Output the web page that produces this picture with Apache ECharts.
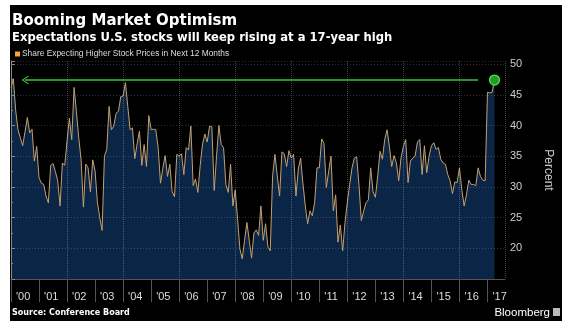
<!DOCTYPE html>
<html>
<head>
<meta charset="utf-8">
<script src="https://cdn.jsdelivr.net/npm/echarts@6/dist/echarts.min.js"></script>
<style>
  html, body { margin: 0; padding: 0; background: #ffffff; width: 567px; height: 330px; overflow: hidden; }
  #chart { position: absolute; left: 10px; top: 5px; width: 552px; height: 316px; background: #000; }
</style>
</head>
<body>
<div id="chart"></div>
<script>
// ---- Data (monthly, starting Jan 2000) ----
const seriesName = 'Share Expecting Higher Stock Prices in Next 12 Months';
const startYear = 2000;
const shareHigherPrices = [
  46.1, 47.6, 42.5, 39.3, 38.0, 36.7, 39.0, 41.3, 38.8, 39.4, 34.2, 36.6,
  31.5, 30.6, 30.4, 28.5, 27.4, 33.5, 33.8, 32.5, 31.0, 26.9, 33.9, 33.5,
  37.5, 41.2, 37.7, 46.2, 42.3, 38.0, 34.5, 26.7, 33.7, 33.1, 29.2, 34.4,
  32.6, 27.5, 25.0, 22.9, 35.0, 36.1, 43.1, 39.3, 39.9, 42.0, 42.3, 44.7,
  44.8, 47.0, 43.1, 39.3, 39.6, 34.6, 37.0, 39.1, 33.5, 36.9, 33.3, 41.6,
  39.3, 39.4, 39.3, 36.4, 30.6, 33.0, 35.1, 31.7, 33.7, 29.2, 28.4, 35.3,
  35.0, 35.4, 32.0, 36.4, 36.0, 39.9, 30.2, 31.3, 29.1, 33.5, 37.0, 38.6,
  37.3, 39.9, 39.8, 29.4, 35.0, 40.0, 36.9, 36.4, 30.4, 29.1, 33.7, 26.9,
  29.5, 24.8, 19.9, 18.3, 21.3, 24.2, 21.3, 18.4, 22.5, 23.0, 22.1, 26.9,
  21.3, 24.0, 20.2, 19.6, 31.8, 35.3, 31.8, 28.5, 35.7, 35.4, 33.3, 35.9,
  34.7, 35.3, 28.5, 32.9, 34.7, 30.5, 26.9, 24.0, 26.1, 25.3, 27.5, 33.1,
  33.1, 37.8, 37.1, 29.9, 32.5, 35.0, 26.1, 28.7, 21.0, 23.8, 19.6, 24.2,
  27.5, 30.4, 33.1, 34.7, 34.9, 30.2, 24.5, 26.1, 27.4, 27.9, 33.1, 29.2,
  28.3, 31.8, 35.8, 34.5, 37.7, 39.3, 36.6, 33.3, 35.1, 33.9, 31.0, 34.8,
  36.6, 37.7, 30.7, 34.2, 34.7, 35.0, 37.3, 37.7, 32.0, 36.7, 32.3, 35.0,
  36.7, 37.2, 36.1, 36.4, 34.5, 33.9, 33.7, 32.0, 31.0, 28.9, 30.8, 30.7,
  33.1, 29.6, 26.9, 28.7, 31.1, 30.4, 30.4, 30.2, 33.1, 31.7, 31.1, 31.0,
  45.4, 45.3, 45.4, 47.4
];
const yearLabels = ["'00","'01","'02","'03","'04","'05","'06","'07","'08","'09",
                    "'10","'11","'12","'13","'14","'15","'16","'17"];
const yTickLabels = [20, 25, 30, 35, 40, 45, 50];
const yMin = 15, yMax = 50.5;
const xMaxMonths = 211.5;          // axis extends a little past the last reading
const arrowStartMonth = 6, arrowEndMonth = 200; // annotation arrow span (months)

// ---- Build ----
const seriesData = shareHigherPrices.map((v, i) => [i, v]);
const lastIdx = shareHigherPrices.length - 1;
const lastVal = shareHigherPrices[lastIdx];

const chart = echarts.init(document.getElementById('chart'), null, { renderer: 'canvas' });
const hGridLine = { show: true, lineStyle: { color: 'rgba(255,255,255,0.18)', type: [1, 2], width: 1 } };
const vGridLine = { show: true, lineStyle: { color: 'rgba(255,255,255,0.26)', type: [1, 1], width: 1 } };

chart.setOption({
  backgroundColor: '#000',
  animation: false,
  title: [
    { text: 'Booming Market Optimism', left: 2, top: 9, padding: 0,
      textStyle: { color: '#fff', fontFamily: 'DejaVu Sans', fontWeight: 'bold', fontSize: 15 } },
    { text: 'Expectations U.S. stocks will keep rising at a 17-year high', left: 2, top: 27, padding: 0,
      textStyle: { color: '#fff', fontFamily: 'DejaVu Sans', fontWeight: 'bold', fontSize: 11.6 } },
    { text: 'Source: Conference Board', left: 2, top: 304, padding: 0,
      textStyle: { color: '#fff', fontFamily: 'DejaVu Sans', fontWeight: 'bold', fontSize: 8 } },
    { text: 'Bloomberg', right: 12, top: 302, padding: 0,
      textStyle: { color: '#fff', fontFamily: 'Liberation Sans', fontWeight: 'normal', fontSize: 11.5 } }
  ],
  graphic: [
    { type: 'rect', right: 2, top: 303, shape: { width: 7, height: 8 }, style: { fill: '#bbb' } }
  ],
  legend: {
    left: 5, top: 45, padding: 0, itemWidth: 5, itemHeight: 5, itemGap: 2, icon: 'rect',
    data: [{ name: seriesName, itemStyle: { color: '#f5a533' } }],
    textStyle: { color: '#ddd', fontFamily: 'Liberation Sans', fontSize: 8.4, padding: [0, 0, 0, -3] }
  },
  grid: { left: 1, right: 46, top: 56, bottom: 42 },
  xAxis: [
    { type: 'value', min: 0, max: xMaxMonths, interval: 24, z: 5,
      axisLine: { show: true, lineStyle: { color: '#555' } },
      axisTick: { show: false }, axisLabel: { show: false },
      splitLine: vGridLine },
    { type: 'value', min: 0, max: xMaxMonths, interval: 12, position: 'bottom', z: 5,
      axisLine: { show: false },
      axisTick: { show: true, length: 23, lineStyle: { color: '#555' } },
      splitLine: { show: false },
      axisLabel: { show: true, color: '#ddd', fontFamily: 'Liberation Sans', fontSize: 11, margin: 12,
        align: 'left', padding: [0, 0, 0, 5], showMaxLabel: false,
        formatter: v => (v % 12 === 0 && yearLabels[v / 12] !== undefined) ? yearLabels[v / 12] : '' } }
  ],
  yAxis: {
    type: 'value', position: 'right', min: yMin, max: yMax, interval: 5, z: 5,
    name: 'Percent', nameLocation: 'middle', nameGap: 37, nameRotate: -90,
    nameTextStyle: { color: '#ccc', fontFamily: 'Liberation Sans', fontSize: 12 },
    axisLine: { show: true, lineStyle: { color: '#888' } },
    axisTick: { show: true, length: 4, lineStyle: { color: '#888' } },
    minorTick: { show: true, splitNumber: 2, length: 2, lineStyle: { color: '#888' } },
    axisLabel: { color: '#ccc', fontFamily: 'Liberation Sans', fontSize: 11, margin: 5,
      formatter: v => yTickLabels.includes(v) ? String(v) : '' },
    splitLine: hGridLine
  },
  series: [{
    name: seriesName, type: 'line', xAxisIndex: 0, data: seriesData,
    showSymbol: false, symbol: 'none',
    lineStyle: { color: '#c4a06e', width: 1 },
    itemStyle: { color: '#f5a533' },
    areaStyle: { color: '#0a2545', opacity: 1 },
    markLine: {
      silent: true, animation: false,
      data: [
        [ { coord: [arrowStartMonth, lastVal], symbol: 'path://M0,10 L5,0 L10,10 L8.6,10 L5,2.6 L1.4,10 Z', symbolSize: [9, 7],
            lineStyle: { color: '#3bc43b', width: 1.5, type: 'solid' }, label: { show: false } },
          { coord: [arrowEndMonth, lastVal], symbol: 'none' } ],
        { yAxis: lastVal, symbol: 'none', lineStyle: { opacity: 0 },
          label: { show: true, position: 'end', distance: 2, formatter: () => lastVal.toFixed(2),
            color: '#000', backgroundColor: '#f5a533', padding: [2, 2, 1, 3], borderRadius: 1,
            fontFamily: 'Liberation Sans', fontSize: 10.5 } }
      ]
    },
    markPoint: {
      silent: true, animation: false,
      data: [{ coord: [lastIdx, lastVal], symbol: 'circle', symbolSize: 10,
        itemStyle: { color: '#1f9e1f', borderColor: '#5fe05f', borderWidth: 1.2 }, label: { show: false } }]
    }
  }]
});
</script>
</body>
</html>
